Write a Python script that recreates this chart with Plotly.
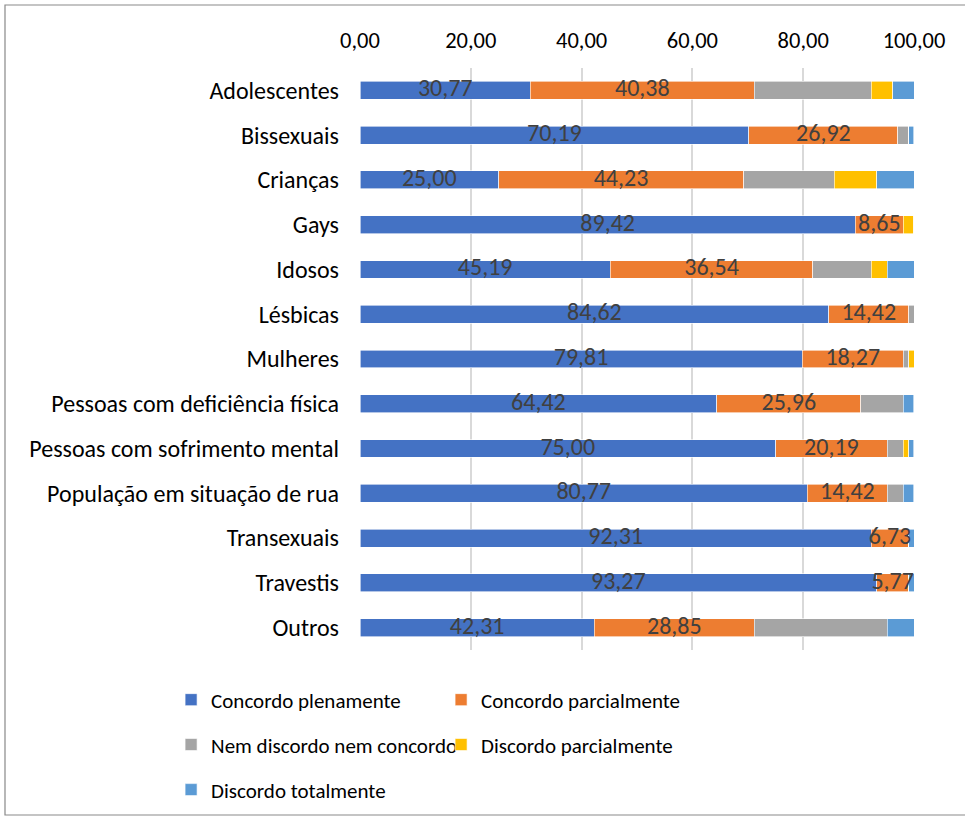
import plotly.graph_objects as go

categories = ["Adolescentes", "Bissexuais", "Crianças", "Gays", "Idosos", "Lésbicas",
              "Mulheres", "Pessoas com deficiência física", "Pessoas com sofrimento mental",
              "População em situação de rua", "Transexuais", "Travestis", "Outros"]

concordo_plenamente = [30.77, 70.19, 25.00, 89.42, 45.19, 84.62, 79.81, 64.42, 75.00, 80.77, 92.31, 93.27, 42.31]
concordo_parcialmente = [40.38, 26.92, 44.23, 8.65, 36.54, 14.42, 18.27, 25.96, 20.19, 14.42, 6.73, 5.77, 28.85]
nem_discordo = [21.15, 1.92, 16.35, 0.00, 10.58, 0.96, 0.96, 7.69, 2.88, 2.88, 0.00, 0.00, 24.04]
discordo_parcialmente = [3.85, 0.00, 7.69, 1.92, 2.88, 0.00, 0.96, 0.00, 0.96, 0.00, 0.00, 0.00, 0.00]
discordo_totalmente = [3.85, 0.96, 6.73, 0.00, 4.81, 0.00, 0.00, 1.92, 0.96, 1.92, 0.96, 0.96, 4.81]

x_ticks = [0, 20, 40, 60, 80, 100]

FONT = "Carlito, Calibri, Lato, sans-serif"

series = [
    ("Concordo plenamente", concordo_plenamente, "#4472C4", "legend"),
    ("Concordo parcialmente", concordo_parcialmente, "#ED7D31", "legend"),
    ("Nem discordo nem concordo", nem_discordo, "#A5A5A5", "legend2"),
    ("Discordo parcialmente", discordo_parcialmente, "#FFC000", "legend2"),
    ("Discordo totalmente", discordo_totalmente, "#5B9BD5", "legend3"),
]

fig = go.Figure()
for name, vals, color, leg in series:
    fig.add_trace(go.Bar(
        y=categories, x=vals, name=name, orientation="h",
        marker=dict(color=color, line=dict(color="white", width=0.6)),
        legend=leg,
        hoverinfo="skip",
    ))

# data labels for the first two series, drawn on top of all bars
label_x = [p / 2 for p in concordo_plenamente] + \
          [p + q / 2 for p, q in zip(concordo_plenamente, concordo_parcialmente)]
label_y = categories + categories
label_v = concordo_plenamente + concordo_parcialmente
fig.add_trace(go.Scatter(
    x=label_x, y=label_y, mode="text",
    text=[f"{v:.2f}".replace(".", ",") for v in label_v],
    textposition="middle center",
    textfont=dict(family=FONT, size=24, color="#404040"),
    showlegend=False, hoverinfo="skip", cliponaxis=False,
))

leg_common = dict(orientation="h", xanchor="left", yanchor="middle",
                  font=dict(family=FONT, size=21, color="#000000"),
                  entrywidth=225, entrywidthmode="pixels",
                  bgcolor="rgba(0,0,0,0)", traceorder="normal")

n = len(categories)
fig.update_layout(
    width=965, height=818,
    margin=dict(l=360, r=51, t=68, b=168, autoexpand=False),
    barmode="stack",
    bargap=0.6,
    separators=",.",
    plot_bgcolor="white", paper_bgcolor="white",
    font=dict(family=FONT, size=22, color="#000000"),
    xaxis=dict(side="top", range=[0, 100], tickvals=x_ticks, tickformat=".2f",
               showgrid=True, gridcolor="#D9D9D9", gridwidth=1.5,
               zeroline=False, showline=False, ticks="",
               tickfont=dict(family=FONT, size=22.5, color="#000000"),
               ticklabelstandoff=15, fixedrange=True, automargin=False),
    yaxis=dict(range=[n - 0.5, -0.5], showgrid=False, showline=False, ticks="",
               tickfont=dict(family=FONT, size=24, color="#000000"),
               ticklabelstandoff=20, fixedrange=True, automargin=False),
    legend=dict(x=-0.341, y=-0.0859, **leg_common),
    legend2=dict(x=-0.341, y=-0.163, **leg_common),
    legend3=dict(x=-0.341, y=-0.2405, **leg_common),
    shapes=[dict(type="rect", xref="paper", yref="paper",
                 x0=(5 - 360) / 554, x1=(972 - 360) / 554,
                 y0=(650 - 815) / 582, y1=(650 - 5) / 582,
                 line=dict(color="#898989", width=1.2), fillcolor="rgba(0,0,0,0)",
                 layer="below")],
)

fig.write_html("out.html")
